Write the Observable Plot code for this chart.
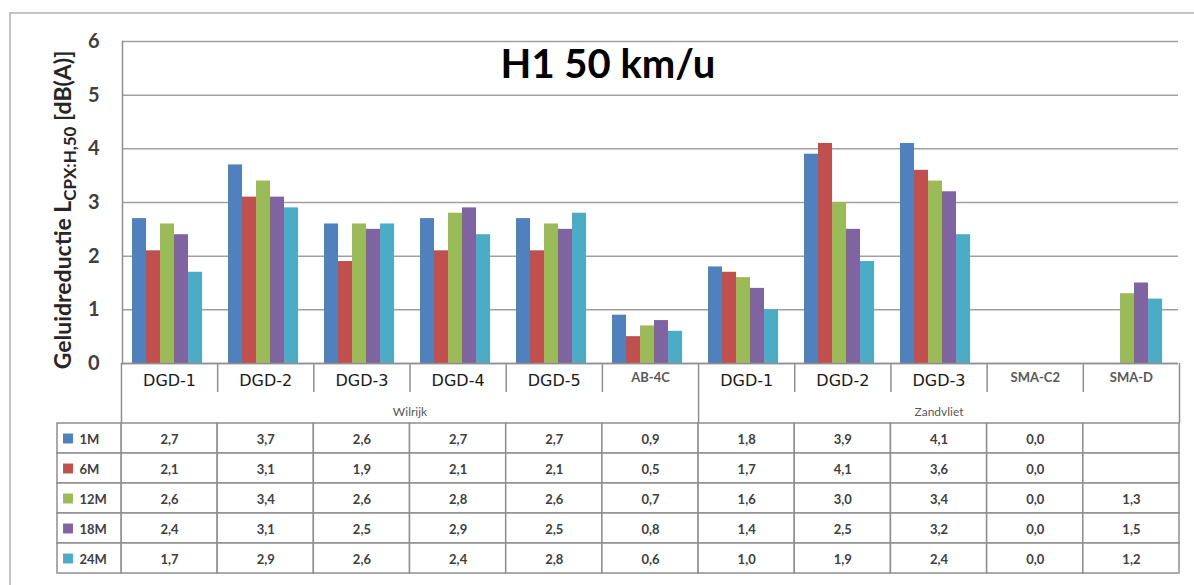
<!DOCTYPE html>
<html><head><meta charset="utf-8">
<script src="https://cdn.jsdelivr.net/npm/d3@7"></script>
<script src="https://cdn.jsdelivr.net/npm/@observablehq/plot@0.6"></script>
<style>
html,body{margin:0;padding:0;background:#fff;}
#wrap{position:relative;width:1194px;height:585px;overflow:hidden;font-family:Lato,sans-serif;}
#frame{position:absolute;left:9px;top:12px;width:1200px;height:600px;border-left:2px solid #c4c4c4;border-top:2px solid #c4c4c4;}
#title{position:absolute;left:408px;width:400px;top:40px;text-align:center;font:bold 40px Lato,sans-serif;color:#000;line-height:46px;}
#ytitle{position:absolute;left:64px;top:210px;transform:translate(-50%,-50%) rotate(-90deg);white-space:nowrap;font:bold 23px Lato,sans-serif;color:#262626;}
#ytitle sub{font-size:17px;}
.layer{position:absolute;left:0;}
</style></head><body>
<div id="wrap">
 <div id="frame"></div>
 <div id="table" class="layer" style="top:363px"></div>
 <div id="chart" class="layer" style="top:0"></div>
 <div id="title">H1 50 km/u</div>
 <div id="ytitle">Geluidreductie L<sub>CPX:H,50</sub> [dB(A)]</div>
</div>
<script>
// ---- data ----
const categories = ["DGD-1","DGD-2","DGD-3","DGD-4","DGD-5","AB-4C","DGD-1","DGD-2","DGD-3","SMA-C2","SMA-D"];
const categoryGroups = ["Wilrijk","Wilrijk","Wilrijk","Wilrijk","Wilrijk","Wilrijk","Zandvliet","Zandvliet","Zandvliet","Zandvliet","Zandvliet"];
const seriesNames = ["1M","6M","12M","18M","24M"];
const values1M  = [2.7,3.7,2.6,2.7,2.7,0.9,1.8,3.9,4.1,0.0,null];
const values6M  = [2.1,3.1,1.9,2.1,2.1,0.5,1.7,4.1,3.6,0.0,null];
const values12M = [2.6,3.4,2.6,2.8,2.6,0.7,1.6,3.0,3.4,0.0,1.3];
const values18M = [2.4,3.1,2.5,2.9,2.5,0.8,1.4,2.5,3.2,0.0,1.5];
const values24M = [1.7,2.9,2.6,2.4,2.8,0.6,1.0,1.9,2.4,0.0,1.2];
const seriesColors = ["#4F81BD","#C0504D","#9BBB59","#8064A2","#4BACC6"];
const yTicks = [0,1,2,3,4,5,6];
const smallLabels = ["AB-4C","SMA-C2","SMA-D"];

const seriesValues = [values1M, values6M, values12M, values18M, values24M];
const nC = categories.length;
const lineColor = "#8f8f8f";

const bars = [];
const cells = [];
categories.forEach((c, i) => seriesNames.forEach((s, j) => {
  const v = seriesValues[j][i];
  cells.push({i, series: s, value: v});
  if (v != null) bars.push({i, series: s, value: v});
}));
const catRows = categories.map((label, i) => ({i, label}));
const groupSpans = d3.groups(catRows.map(d => ({...d, g: categoryGroups[d.i]})), d => d.g)
  .map(([name, arr]) => ({name, start: d3.min(arr, d => d.i), end: d3.max(arr, d => d.i) + 1}));
const groupEdges = [...new Set(groupSpans.flatMap(d => [d.start, d.end]))];
const innerEdges = d3.range(1, nC).filter(e => !groupEdges.includes(e));
const fmt = v => v == null ? "" : v.toFixed(1).replace(".", ",");

// ---- chart ----
const chart = Plot.plot({
  width: 1194, height: 366,
  marginLeft: 121, marginRight: 15, marginTop: 41, marginBottom: 3,
  style: {background: "transparent", overflow: "visible", fontFamily: "Lato, sans-serif", fontSize: "20px", fontWeight: "bold", color: "#404040"},
  fx: {domain: d3.range(nC), padding: 0, axis: null},
  x: {domain: seriesNames, paddingInner: 0, paddingOuter: 0.8, align: 0.4, axis: null},
  y: {domain: [0, 6], ticks: yTicks, tickFormat: d3.format("d"), tickSize: 0, tickPadding: 23, label: null},
  color: {domain: seriesNames, range: seriesColors},
  marks: [
    Plot.ruleY(yTicks, {stroke: "#a0a0a0", strokeWidth: 1.5}),
    Plot.barY(bars, {fx: "i", x: "series", y: "value", fill: "series"}),
    Plot.ruleY([0], {stroke: lineColor, strokeWidth: 1.5}),
    Plot.frame({anchor: "left", facet: "super", stroke: lineColor, strokeWidth: 1.5})
  ]
});
document.getElementById("chart").appendChild(chart);

// ---- data table ----
const legendStart = -0.665;
const rows = ["cat", "grp", ...seriesNames];
const table = Plot.plot({
  width: 1194, height: 222,
  marginLeft: 57, marginRight: 15, marginTop: 0, marginBottom: 12,
  style: {background: "transparent", overflow: "visible", fontFamily: "Lato, sans-serif"},
  x: {domain: [legendStart, nC], axis: null},
  y: {domain: rows, type: "band", padding: 0, axis: null},
  color: {domain: seriesNames, range: seriesColors},
  marks: [
    Plot.barX(cells, {x1: "i", x2: d => d.i + 1, y: "series", fill: "white", stroke: lineColor, strokeWidth: 1.5}),
    Plot.barX(seriesNames, {x1: () => legendStart, x2: () => 0, y: d => d, fill: "white", stroke: lineColor, strokeWidth: 1.5}),
    Plot.tickX(groupEdges.flatMap(e => [{e, row: "cat"}, {e, row: "grp"}]), {x: "e", y: "row", stroke: lineColor, strokeWidth: 1.5}),
    Plot.tickX(innerEdges, {x: d => d, y: () => "cat", stroke: lineColor, strokeWidth: 1.5, insetBottom: 1}),
    Plot.text(catRows.filter(d => !smallLabels.includes(d.label)), {x: d => d.i + 0.5, y: () => "cat", text: "label", fontFamily: "DejaVu Sans", fontSize: 16, fill: "#1a1a1a", dy: 2}),
    Plot.text(catRows.filter(d => smallLabels.includes(d.label)), {x: d => d.i + 0.5, y: () => "cat", text: "label", fontWeight: "bold", fontSize: 13, fill: "#595959", dy: -1}),
    Plot.text(groupSpans, {x: d => (d.start + d.end) / 2, y: () => "grp", text: "name", fontSize: 12, fill: "#595959", dy: 4}),
    Plot.text(cells.filter(d => d.value != null), {x: d => d.i + 0.5, y: "series", text: d => fmt(d.value), fontWeight: "bold", fontSize: 13, fill: "#404040", dy: 1}),
    Plot.dot(seriesNames, {x: () => legendStart, y: d => d, symbol: "square", fill: d => d, r: 5.6, dx: 10.5}),
    Plot.text(seriesNames, {x: () => legendStart, y: d => d, text: d => d, textAnchor: "start", dx: 22, fontWeight: "bold", fontSize: 13, fill: "#404040", dy: 1})
  ]
});
document.getElementById("table").appendChild(table);
</script>
</body></html>
